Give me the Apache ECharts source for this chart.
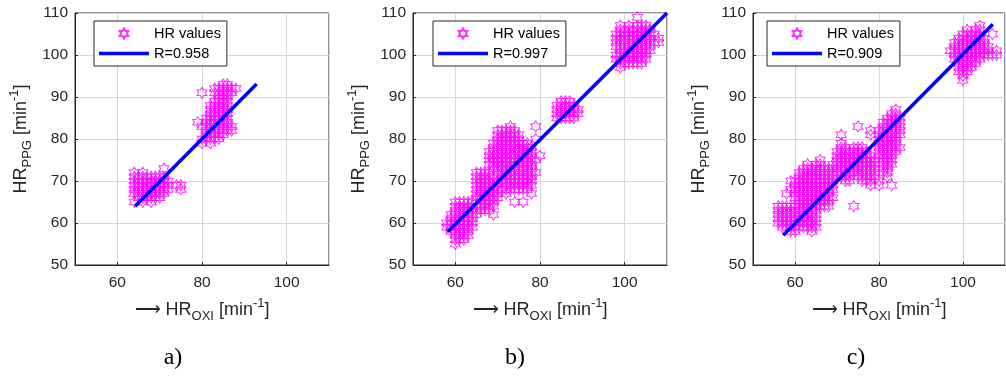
<!DOCTYPE html>
<html lang="en">
<head>
<meta charset="UTF-8">
<title>HR scatter</title>
<script src="https://cdn.jsdelivr.net/npm/echarts@6/dist/echarts.min.js"></script>
<style>
  html, body { margin: 0; padding: 0; background: #fff; }
  #main { width: 1006px; height: 377px; }
</style>
</head>
<body>
<div id="main"></div>
<script type="text/javascript">
// rows of points: [HR_PPG, [HR_OXI values on that row]]
var rowsA = [
  [93, [85, 86]],
  [92, [83, 84, 85, 86, 87, 88]],
  [91, [80, 83, 84, 85, 86, 87]],
  [90, [84, 85, 86]],
  [89, [83, 84, 85, 86]],
  [88, [82, 83, 84, 85, 86]],
  [87, [82, 83, 84, 85, 86]],
  [86, [82, 83, 84, 85, 86]],
  [85, [81, 82, 83, 84, 85, 86]],
  [84, [79, 81, 82, 83, 84, 85, 86]],
  [83, [80, 81, 82, 83, 84, 85, 86, 87]],
  [82, [81, 82, 83, 84, 85, 86, 87]],
  [81, [81, 82, 83, 84, 85]],
  [80, [80, 81, 82, 83, 84]],
  [79, [80, 82]],
  [73, [71]],
  [72, [64, 66]],
  [71, [64, 65, 66, 67, 68, 69, 70, 71]],
  [70, [64, 65, 66, 67, 68, 69, 70, 71, 72]],
  [69, [64, 65, 66, 67, 68, 69, 70, 71, 72, 74, 75]],
  [68, [64, 65, 66, 67, 68, 69, 70, 71, 72, 75]],
  [67, [64, 65, 66, 67, 68, 69, 70, 71]],
  [66, [65, 66, 67, 68, 69, 70]],
  [65, [64, 66, 68]]
];

var rowsB = [
  [109, [103]],
  [107, [99, 101, 103, 104, 105]],
  [106, [99, 100, 101, 102, 103, 104, 105, 106]],
  [105, [98, 99, 100, 101, 102, 103, 104, 105, 106, 107]],
  [104, [98, 99, 100, 101, 102, 103, 104, 105, 106, 108]],
  [103, [98, 99, 100, 101, 102, 103, 104, 105, 106, 107, 108]],
  [102, [98, 99, 100, 101, 102, 103, 104, 105, 106]],
  [101, [99, 100, 101, 102, 103, 104, 105, 106]],
  [100, [98, 99, 100, 101, 102, 103, 104, 105]],
  [99, [98, 99, 100, 101, 102, 103, 104, 105]],
  [98, [99, 100, 101, 102, 103, 104]],
  [97, [99]],
  [89, [85, 86, 87]],
  [88, [84, 85, 86, 87, 88]],
  [87, [84, 85, 86, 87, 88, 89]],
  [86, [84, 85, 86, 87, 88, 89]],
  [85, [84, 85, 86, 87, 88]],
  [83, [73, 79]],
  [82, [70, 71, 72, 73, 74]],
  [81, [70, 71, 72, 73, 74, 75]],
  [80, [70, 71, 72, 73, 74, 75, 79]],
  [79, [69, 70, 71, 72, 73, 74, 75, 76, 77]],
  [78, [69, 70, 71, 72, 73, 74, 75, 76, 77, 78]],
  [77, [68, 69, 70, 71, 72, 73, 74, 75, 76, 77, 78]],
  [76, [68, 69, 70, 71, 72, 73, 74, 75, 76, 77, 78, 80]],
  [75, [68, 69, 70, 71, 72, 73, 74, 75, 76, 77, 78, 79]],
  [74, [68, 69, 70, 71, 72, 73, 74, 75, 76, 77, 78]],
  [73, [69, 70, 71, 72, 73, 74, 75, 76, 77, 78]],
  [72, [65, 66, 67, 68, 70, 71, 72, 73, 74, 75, 76, 77, 78, 79]],
  [71, [65, 66, 67, 68, 69, 71, 72, 73, 74, 75, 76, 77, 78]],
  [70, [65, 66, 67, 68, 69, 70, 71, 72, 73, 74, 75, 76, 77, 78]],
  [69, [65, 66, 67, 68, 69, 70, 72, 73, 74, 75, 76, 77, 78]],
  [68, [65, 66, 67, 68, 69, 70, 71, 72, 73, 74, 75, 76, 77]],
  [67, [65, 66, 67, 68, 69, 70, 72, 78]],
  [66, [65, 66, 67, 68, 69, 70]],
  [65, [60, 61, 62, 63, 64, 66, 67, 68, 69, 74, 76]],
  [64, [60, 61, 62, 63, 64, 65, 66, 67, 68, 69]],
  [63, [60, 61, 62, 63, 64, 65, 66, 67, 68]],
  [62, [59, 60, 61, 62, 63, 64, 65, 69]],
  [61, [59, 60, 61, 62, 63, 64]],
  [60, [58, 59, 60, 61, 62, 63, 64]],
  [59, [58, 59, 60, 61, 62, 63, 64]],
  [58, [59, 60, 61, 62, 63]],
  [57, [60, 61, 62, 63]],
  [56, [60, 61, 62]],
  [55, [60]]
];

var rowsC = [
  [107, [104]],
  [106, [101, 103, 104]],
  [105, [100, 101, 102, 103, 104, 107]],
  [104, [99, 100, 101, 102, 103, 104, 105]],
  [103, [98, 99, 100, 101, 102, 103, 104, 105]],
  [102, [98, 99, 100, 101, 102, 103, 104, 105, 106]],
  [101, [97, 98, 99, 100, 101, 102, 103, 104, 105, 106, 108]],
  [100, [98, 99, 100, 101, 102, 103, 104, 105, 106, 107, 108]],
  [99, [98, 99, 100, 101, 102, 103, 104]],
  [98, [99, 100, 101, 102, 103]],
  [97, [99, 100, 101, 102]],
  [96, [99, 100, 101]],
  [95, [100]],
  [94, [100]],
  [87, [84]],
  [86, [83, 84]],
  [85, [82, 83, 84, 85]],
  [84, [81, 82, 83, 84, 85]],
  [83, [75, 81, 82, 83, 84, 85]],
  [82, [78, 80, 81, 82, 83, 84, 85]],
  [81, [71, 78, 80, 81, 82, 83, 84, 85]],
  [80, [80, 81, 82, 83, 84]],
  [79, [71, 80, 81, 82, 83, 84]],
  [78, [71, 72, 74, 75, 76, 80, 81, 82, 83, 84, 85]],
  [77, [70, 71, 72, 73, 74, 75, 76, 77, 80, 81, 82, 83, 84]],
  [76, [70, 71, 72, 73, 74, 75, 76, 77, 78, 80, 81, 82, 83]],
  [75, [66, 70, 71, 72, 73, 74, 75, 76, 77, 78, 79, 81, 82, 83]],
  [74, [63, 65, 66, 69, 70, 71, 72, 73, 74, 75, 76, 77, 78, 79, 81, 82, 83]],
  [73, [62, 63, 64, 65, 66, 67, 68, 69, 70, 71, 72, 73, 74, 75, 76, 77, 78, 79, 81, 82]],
  [72, [61, 62, 63, 64, 65, 66, 67, 68, 69, 70, 71, 72, 73, 74, 75, 76, 77, 78, 79, 81, 82]],
  [71, [61, 62, 63, 64, 65, 66, 67, 68, 69, 71, 72, 73, 75, 76, 77, 78, 79, 82]],
  [70, [59, 60, 61, 62, 63, 64, 65, 66, 67, 68, 69, 72, 73, 76, 77, 78, 80]],
  [69, [60, 61, 62, 63, 64, 65, 66, 67, 68, 69, 78, 80, 83]],
  [68, [59, 60, 61, 62, 63, 64, 65, 66, 67, 68, 69]],
  [67, [58, 60, 61, 62, 63, 64, 65, 66, 67, 68]],
  [66, [60, 61, 62, 63, 64, 65, 66, 67, 68, 69]],
  [65, [61, 62, 63, 64, 65, 66, 67, 68]],
  [64, [56, 57, 58, 59, 60, 61, 62, 63, 64, 65, 66, 67, 68, 74]],
  [63, [56, 57, 58, 59, 60, 61, 62, 63, 64, 65]],
  [62, [56, 57, 58, 59, 60, 61, 62, 63, 64, 65]],
  [61, [56, 57, 58, 59, 60, 61, 62, 63, 64, 65]],
  [60, [56, 57, 58, 59, 60, 61, 62, 63, 64, 65]],
  [59, [57, 58, 59, 60, 61, 62, 63, 64, 65]],
  [58, [59, 60, 64]]
];

// regression line end points [HR_OXI, HR_PPG]
var fitA = [[64.2, 64.0], [92.9, 93.1]];
var fitB = [[58.2, 57.9], [110, 110]];
var fitC = [[57.2, 57.1], [107.1, 107.3]];

var rLabels = ['R=0.958', 'R=0.997', 'R=0.909'];
var captions = ['a)', 'b)', 'c)'];

function expand(rows) {
  var pts = [];
  rows.forEach(function (r) {
    r[1].forEach(function (x) { pts.push([x, r[0]]); });
  });
  return pts;
}

var FONT = 'Liberation Sans';
var INK = '#262626';
var star = 'path://M10,0L12.887,5L18.66,5L15.774,10L18.66,15L12.887,15L10,20L7.113,15L1.34,15L4.226,10L1.34,5L7.113,5Z';
var lineIcon = 'path://M0,0L50,0L50,3.5L0,3.5Z';

var gridLefts = [75, 413, 753];
var gridWidths = [254, 254, 252];
var legendLefts = [94, 433, 767];
var captionX = [173, 515, 856];
var allRows = [rowsA, rowsB, rowsC];
var allFits = [fitA, fitB, fitC];

var richName = {
  a: { fontFamily: FONT, fontSize: 18, lineHeight: 26, color: INK, verticalAlign: 'middle' },
  m: { fontFamily: FONT, fontSize: 18, lineHeight: 26, color: INK, verticalAlign: 'middle' },
  s: { fontFamily: FONT, fontSize: 13, lineHeight: 12, color: INK, verticalAlign: 'bottom' },
  p: { fontFamily: FONT, fontSize: 13, lineHeight: 12, color: INK, verticalAlign: 'top' }
};

var grids = [], xAxes = [], yAxes = [], series = [], legends = [], graphics = [];

for (var i = 0; i < 3; i++) {
  grids.push({
    left: gridLefts[i], top: 13, width: gridWidths[i], height: 252,
    show: true, borderColor: INK, borderWidth: 1, backgroundColor: '#fff'
  });
  xAxes.push({
    gridIndex: i, type: 'value', min: 50, max: 110, splitNumber: 3,
    name: '{a|\u27F6 }{m|HR}{s|OXI}{m| [min}{p|-1}{m|]}',
    nameLocation: 'middle', nameGap: 32,
    nameTextStyle: { rich: richName },
    axisLine: { show: true, lineStyle: { color: INK, width: 1 } },
    axisTick: { show: true, inside: true, length: 3, lineStyle: { color: INK } },
    axisLabel: { showMinLabel: false, showMaxLabel: false, margin: 10,
      fontFamily: FONT, fontSize: 15.5, color: INK },
    splitLine: { show: true, lineStyle: { color: '#d6d6d6', width: 1 } }
  });
  yAxes.push({
    gridIndex: i, type: 'value', min: 50, max: 110, interval: 10,
    name: '{m|HR}{s|PPG}{m| [min}{p|-1}{m|]}',
    nameLocation: 'middle', nameGap: 41,
    nameTextStyle: { rich: richName },
    axisLine: { show: true, lineStyle: { color: INK, width: 1 } },
    axisTick: { show: true, inside: true, length: 3, lineStyle: { color: INK } },
    axisLabel: { margin: 7, fontFamily: FONT, fontSize: 15.5, color: INK },
    splitLine: { show: true, lineStyle: { color: '#d6d6d6', width: 1 } }
  });
  series.push({
    name: 'HR values', type: 'scatter', xAxisIndex: i, yAxisIndex: i,
    data: expand(allRows[i]),
    symbol: star, symbolSize: [10, 11],
    itemStyle: { color: 'none', borderColor: '#ff00ff', borderWidth: 1 },
    z: 2
  });
  series.push({
    name: rLabels[i], type: 'line', xAxisIndex: i, yAxisIndex: i,
    data: allFits[i], symbol: 'none', showSymbol: false,
    lineStyle: { color: '#0000ff', width: 3.5 },
    itemStyle: { color: '#0000ff' },
    z: 3
  });
  legends.push({
    left: legendLefts[i], top: 21, orient: 'vertical',
    data: ['HR values', { name: rLabels[i], icon: lineIcon }],
    itemWidth: 50, itemHeight: 10, itemGap: 5,
    padding: [5, 6, 5, 5],
    backgroundColor: '#fff', borderColor: INK, borderWidth: 1, borderRadius: 0,
    selectedMode: false,
    textStyle: { fontFamily: FONT, fontSize: 14.5, lineHeight: 14, color: '#000' }
  });
  graphics.push({
    type: 'text', x: captionX[i], y: 358,
    style: { text: captions[i], font: '24px "Liberation Serif"', fill: '#000',
      textAlign: 'center', textVerticalAlign: 'middle' }
  });
}

var chart = echarts.init(document.getElementById('main'));
chart.setOption({
  animation: false,
  backgroundColor: '#fff',
  grid: grids,
  xAxis: xAxes,
  yAxis: yAxes,
  legend: legends,
  series: series,
  graphic: graphics
});
</script>
</body>
</html>
